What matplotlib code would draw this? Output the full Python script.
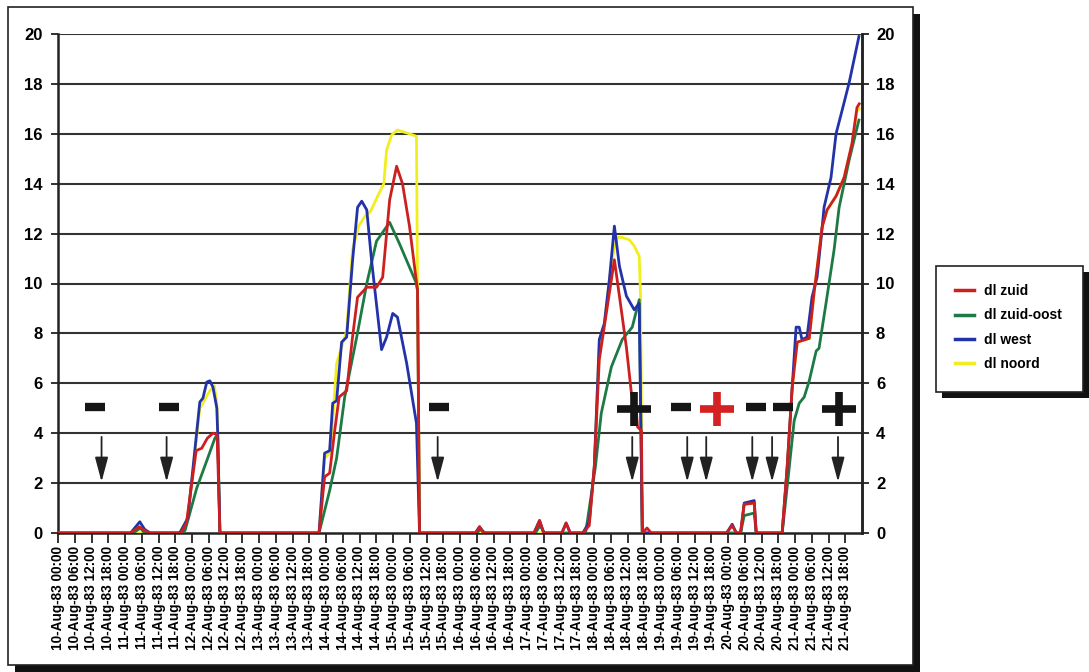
import matplotlib
matplotlib.use("Agg")
import matplotlib.pyplot as plt
from matplotlib.patches import Rectangle
from matplotlib.lines import Line2D

plt.rcParams['font.family'] = ['Liberation Sans', 'DejaVu Sans']
plt.rcParams['font.weight'] = 'bold'

# ---- data (hours since 10-Aug-83 00:00) ----
days = [10, 11, 12, 13, 14, 15, 16, 17, 18, 19, 20, 21]
hours = ["00:00", "06:00", "12:00", "18:00"]
tick_labels = [f"{d}-Aug-83 {h}" for d in days for h in hours]

t_zuid = [0, 26, 29, 31, 33, 44, 46, 49.5, 51.5, 53.5, 55.5, 57, 58,
          93.5, 95.5, 97.3, 99, 100.7, 103.4, 105.5, 107.3, 110.6, 114.1, 116.3, 118.8, 121.3, 123.4, 125.9, 128.8, 129.5,
          149.5, 151, 152.5, 170.5, 172.5, 174, 180.5, 182, 183.5,
          188, 190.3, 192.1, 193.9, 196.4, 199.3, 201.1, 203.6, 205.4, 207.2, 207.6, 209, 209.3, 211, 212.5,
          239.5, 241.5, 243, 244.5, 245.8, 249.4, 250.1,
          259.4, 261.2, 263, 264.8, 269.1, 270.8, 273.7, 275.5, 278.7, 281.6, 284.4, 286.2, 287]
v_zuid = [0, 0, 0.25, 0.1, 0, 0, 0.4, 3.3, 3.4, 3.8, 4.0, 3.95, 0,
          0, 2.25, 2.4, 4.0, 5.45, 5.7, 7.85, 9.45, 9.85, 9.85, 10.25, 13.35, 14.7, 14.0, 12.3, 9.7, 0,
          0, 0.25, 0, 0, 0.5, 0, 0, 0.4, 0,
          0, 0.3, 2.65, 6.95, 8.8, 10.95, 9.5, 7.45, 5.6, 4.8, 4.25, 4.1, 0, 0.2, 0,
          0, 0.3, 0, 0, 1.15, 1.2, 0,
          0, 2.65, 5.85, 7.65, 7.8, 9.6, 12.25, 12.95, 13.5, 14.25, 15.6, 17.05, 17.2]

t_zuid_oost = [0, 27, 29.5, 31, 43, 45.5, 49.7, 53.3, 56.2, 57.2, 58,
               93.5, 97.3, 99.8, 102.7, 107, 110.6, 114.1, 118.8, 122.3, 128.4, 128.8, 129.5,
               150, 151.5, 153, 171, 172.7, 174.2,
               189, 192.5, 194.6, 198.2, 202.1, 205.7, 208.2, 209.3,
               244.5, 245.8, 249.4, 250.1,
               259.4, 261.2, 263.7, 265.5, 267.3, 269.1, 271.6, 272.6, 275.1, 278, 279.8, 283.4, 286.9]
v_zuid_oost = [0, 0, 0.2, 0, 0, 0.1, 1.8, 2.9, 3.8, 3.95, 0,
               0, 1.7, 3.0, 5.45, 7.85, 10.0, 11.7, 12.45, 11.6, 10.0, 9.7, 0,
               0, 0.15, 0, 0, 0.3, 0,
               0, 2.65, 4.8, 6.65, 7.75, 8.25, 9.35, 0,
               0, 0.7, 0.8, 0,
               0, 1.85, 4.5, 5.2, 5.45, 6.1, 7.3, 7.4, 9.2, 11.35, 13.05, 14.95, 16.55]

t_west = [0, 26, 29.3, 31, 33, 43.6, 46.5, 50.8, 51.9, 53.3, 54.4, 55.5, 56.9, 57.2, 58,
          93.5, 95.5, 97.3, 98.4, 99.8, 101.6, 103.4, 105.5, 107.3, 108.8, 110.6, 112.3, 115.9, 117.7, 119.9, 121.6, 124.9, 128.4, 129.5,
          149.5, 151, 152.5, 170.5, 172.5, 174, 180.5, 182, 183.5,
          188, 190.3, 192.1, 193.9, 195.7, 197.5, 199.3, 201.1, 203.6, 206.4, 208.2, 209.3,
          239.5, 241.5, 243, 244.5, 245.8, 249.4, 250.1,
          259.4, 261.2, 263, 264.4, 265.5, 266.5, 268.3, 270.1, 271.9, 273.3, 274.4, 276.9, 278.7, 280.9, 283.4, 286.9]
v_west = [0, 0, 0.45, 0.15, 0, 0, 0.6, 5.25, 5.4, 6.05, 6.1, 5.85, 5.0, 4.0, 0,
          0, 3.2, 3.3, 5.2, 5.3, 7.65, 7.85, 10.9, 13.05, 13.3, 12.95, 10.95, 7.35, 7.85, 8.8, 8.65, 6.8, 4.4, 0,
          0, 0.25, 0, 0, 0.5, 0, 0, 0.4, 0,
          0, 0.45, 2.65, 7.75, 8.4, 10.15, 12.3, 10.7, 9.5, 8.95, 9.2, 0,
          0, 0.35, 0, 0, 1.2, 1.3, 0,
          0, 2.65, 5.85, 8.25, 8.25, 7.75, 7.85, 9.45, 10.25, 11.75, 13.05, 14.25, 16.0, 16.95, 18.05, 19.9]

t_noord = [0, 43.6, 46.5, 50.8, 51.9, 53.3, 54.4, 56.0, 56.9, 57.2, 58,
           93.5, 95.5, 97.3, 98.4, 99.8, 103.4, 105.5, 107.7, 110, 112, 114.5, 116.7, 117.7, 119.5, 121.6, 125.9, 128.4, 128.8, 129.5,
           188, 190.3, 192.1, 193.9, 195.7, 197.5, 199.3, 200.5, 202, 204.7, 206.4, 208.2, 208.7, 209.3,
           244.5, 245.8, 249.4, 250.1,
           259.4, 261.2, 263, 264.8, 269.1, 270.8, 273.7, 275.5, 278.7, 281.6, 284.4, 286.2, 287]
v_noord = [0, 0, 0.6, 5.0, 5.2, 5.5, 5.7, 5.9, 5.2, 4.0, 0,
           0, 3.0, 3.2, 4.5, 6.8, 8.1, 11.35, 12.3, 12.7, 12.9, 13.5, 14.0, 15.35, 15.95, 16.15, 16.0, 15.9, 9.7, 0,
           0, 0.4, 2.65, 7.7, 8.4, 10.1, 11.5, 11.85, 11.85, 11.75, 11.5, 11.1, 9.35, 0,
           0, 1.15, 1.2, 0,
           0, 2.65, 5.85, 7.65, 7.8, 9.6, 12.25, 12.95, 13.5, 14.25, 15.6, 16.9, 17.0]

# annotation symbols (hour position, kind, colour)
sym_x = [13.2, 39.7, 136.3, 206.4, 223.3, 236.1, 250.1, 259.7, 279.8]
sym_kind = ["-", "-", "-", "+", "-", "+", "-", "-", "+"]
sym_color = ["#151515", "#151515", "#151515", "#151515", "#151515", "#d42222", "#151515", "#151515", "#151515"]
arrow_x = [15.6, 38.9, 136.0, 205.7, 225.4, 232.2, 248.7, 255.8, 279.4]

# ---- figure ----
W, H = 1089, 672
fig = plt.figure(figsize=(W / 100, H / 100), dpi=100)

def fx(px):
    return px / W

def fy(py):
    return 1 - py / H

# outer frame with drop shadow
fig.patches.append(Rectangle((fx(15), fy(672)), fx(920) - fx(15), fy(14) - fy(672),
                             transform=fig.transFigure, facecolor="#111111", edgecolor="none", zorder=0))
fig.patches.append(Rectangle((fx(8), fy(665)), fx(913) - fx(8), fy(7) - fy(665),
                             transform=fig.transFigure, facecolor="white", edgecolor="#222222", lw=1.2, zorder=1))
# legend box with shadow
fig.patches.append(Rectangle((fx(942), fy(398)), fx(1089) - fx(942), fy(272) - fy(398),
                             transform=fig.transFigure, facecolor="#111111", edgecolor="none", zorder=2))
fig.patches.append(Rectangle((fx(936), fy(392)), fx(1083) - fx(936), fy(266) - fy(392),
                             transform=fig.transFigure, facecolor="white", edgecolor="#222222", lw=1.2, zorder=3))

ax = fig.add_axes([fx(58), fy(533), fx(862) - fx(58), fy(34) - fy(533)])
ax.set_facecolor("none")
ax.set_zorder(5)

ax.set_xlim(0, 288)
ax.set_ylim(0, 20)
yt = list(range(0, 21, 2))
ax.set_yticks(yt)
ax.set_yticklabels([str(v) for v in yt], fontsize=12, fontweight="bold")
ax.set_xticks(list(range(0, 288, 6)))
ax.set_xticklabels(tick_labels, rotation=90, fontsize=9.8, fontweight="bold")
ax.tick_params(axis="x", length=7, width=1.3, pad=2, color="#222222")
ax.tick_params(axis="y", length=5, width=1.3, pad=6, color="#222222")
for g in yt[1:]:
    ax.axhline(g, color="#333333", lw=1.5, zorder=1)
ax.spines["top"].set_visible(False)
for s in ["left", "bottom", "right"]:
    ax.spines[s].set_linewidth(1.8)
    ax.spines[s].set_color("#222222")

ax2 = ax.twinx()
ax2.set_ylim(0, 20)
ax2.set_yticks(yt)
ax2.set_yticklabels([str(v) for v in yt], fontsize=12, fontweight="bold")
ax2.tick_params(axis="y", length=5, width=1.3, pad=5, color="#222222")
for s in ["top", "left", "bottom"]:
    ax2.spines[s].set_visible(False)
ax2.spines["right"].set_linewidth(1.8)
ax2.spines["right"].set_color("#222222")

c_zuid, c_oost, c_west, c_noord = "#cc2020", "#1d7a44", "#2233aa", "#f2ee1e"
lw = 2.0
ax.plot(t_noord, v_noord, color=c_noord, lw=lw, zorder=3)
ax.plot(t_zuid_oost, v_zuid_oost, color=c_oost, lw=lw, zorder=4)
ax.plot(t_west, v_west, color=c_west, lw=lw, zorder=5)
ax.plot(t_zuid, v_zuid, color=c_zuid, lw=lw, zorder=6)

# symbols
for x, k, c in zip(sym_x, sym_kind, sym_color):
    if k == "-":
        ax.plot([x], [5.05], marker="_", ms=14.5, mew=6, color=c, zorder=7, clip_on=False)
    else:
        ax.plot([x], [4.95], marker="+", ms=25, mew=5.5, color=c, zorder=7, clip_on=False)
for x in arrow_x:
    ax.annotate("", xy=(x, 2.05), xytext=(x, 3.85),
                arrowprops=dict(arrowstyle="-|>,head_length=1.5,head_width=0.4",
                                lw=1.3, color="#222222", shrinkA=0, shrinkB=0), zorder=7)

# legend
handles = [Line2D([], [], color=c_zuid, lw=2.5),
           Line2D([], [], color=c_oost, lw=2.5),
           Line2D([], [], color=c_west, lw=2.5),
           Line2D([], [], color=c_noord, lw=2.5)]
labels = ["dl zuid", "dl zuid-oost", "dl west", "dl noord"]
leg = fig.legend(handles, labels, loc="upper left", bbox_to_anchor=(fx(955), fy(284)),
                 frameon=False, prop={"size": 10, "weight": "bold"}, handlelength=1.4,
                 handletextpad=0.7, labelspacing=0.75, borderaxespad=0, borderpad=0)
leg.set_zorder(10)

fig.savefig("out.png", dpi=100)
